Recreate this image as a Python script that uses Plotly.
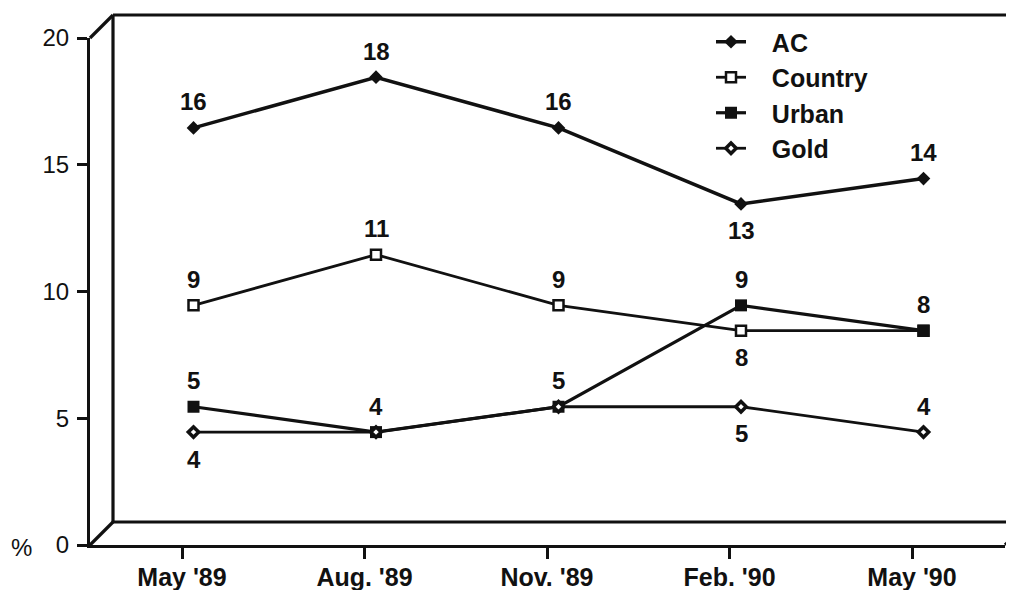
import plotly.graph_objects as go

# ---------------- data ----------------
periods = ["May '89", "Aug. '89", "Nov. '89", "Feb. '90", "May '90"]
ac = [16, 18, 16, 13, 14]
country = [9, 11, 9, 8, 8]
urban = [5, 4, 5, 9, 8]
gold = [4, 4, 5, 5, 4]
series_names = ["AC", "Country", "Urban", "Gold"]
y_ticks = [0, 5, 10, 15, 20]

# label placement per point ("" = label shared with another series)
ac_lab = ["above", "above", "above", "below", "above"]
country_lab = ["above", "above", "above", "below", ""]
urban_lab = ["above", "above", "above", "above", "above"]
gold_lab = ["below", "", "", "below", "above"]

# ---------------- geometry (pixels in the final picture) ----------------
W, H = 1014, 590
OFF = 8                          # page body margin offset
FRONT_L, FRONT_R = 90, 1005      # front axis x extent
FRONT_B, FRONT_T = 545, 38       # front axis y of 0 and 20
DEPTH = 23                       # 3D depth offset
X0_PX, X_STEP = 182, 182.5       # first category tick, spacing
Y_UNIT = (FRONT_B - FRONT_T) / 20.0


def px(x):
    return (x - OFF) / W


def py(y):
    return 1 - (y - OFF) / H


FONT = "Liberation Sans, Arial, Helvetica, sans-serif"
BLACK = "#111111"

fig = go.Figure()

# mid-depth data plane
half = DEPTH / 2
dx0 = X0_PX + half - OFF
dy0 = FRONT_B - half - OFF

styles = {
    "AC": dict(symbol="diamond", size=10.5, color=BLACK, line=dict(width=0)),
    "Country": dict(symbol="square", size=10, color="white", line=dict(width=2.5, color=BLACK)),
    "Urban": dict(symbol="square", size=12, color=BLACK, line=dict(width=0)),
    "Gold": dict(symbol="diamond", size=8, color="white", line=dict(width=3.5, color=BLACK)),
}
widths = {"AC": 3.5, "Country": 2.8, "Urban": 3.2, "Gold": 2.8}
values = {"AC": ac, "Country": country, "Urban": urban, "Gold": gold}
labs = {"AC": ac_lab, "Country": country_lab, "Urban": urban_lab, "Gold": gold_lab}

NB = "\u00a0" * 3
for name in series_names:
    fig.add_trace(go.Scatter(
        x=periods, y=values[name], mode="lines+markers",
        name=NB + name,
        line=dict(color=BLACK, width=widths[name]),
        marker=styles[name],
        xaxis="x", yaxis="y", hoverinfo="skip",
    ))

# invisible trace to anchor the front axes
fig.add_trace(go.Scatter(x=periods, y=ac, mode="markers", marker=dict(opacity=0),
                         xaxis="x2", yaxis="y2", showlegend=False, hoverinfo="skip"))

annotations = []
for name in series_names:
    for p, v, pos in zip(periods, values[name], labs[name]):
        if not pos:
            continue
        annotations.append(dict(
            x=p, y=v, xref="x", yref="y", text=str(v), showarrow=False,
            yshift=26 if pos == "above" else -27,
            font=dict(family=FONT, size=24, color=BLACK, weight="bold"),
        ))
annotations.append(dict(x=px(9), y=py(547), xref="paper", yref="paper", text="%",
                        showarrow=False, xanchor="left", yanchor="middle",
                        font=dict(family=FONT, size=24, color=BLACK)))

# back wall / 3D frame
lw = 3.2
segs = [
    ((FRONT_L + DEPTH, FRONT_T - DEPTH), (W + 20, FRONT_T - DEPTH)),
    ((FRONT_L + DEPTH, FRONT_T - DEPTH), (FRONT_L + DEPTH, FRONT_B - DEPTH)),
    ((FRONT_L + DEPTH, FRONT_B - DEPTH), (W + 20, FRONT_B - DEPTH)),
    ((FRONT_L, FRONT_T), (FRONT_L + DEPTH, FRONT_T - DEPTH)),
    ((FRONT_L, FRONT_B), (FRONT_L + DEPTH, FRONT_B - DEPTH)),
    ((FRONT_R, FRONT_B), (FRONT_R + DEPTH, FRONT_B - DEPTH)),
]
shapes = [dict(type="line", xref="paper", yref="paper",
               x0=px(a[0]), y0=py(a[1]), x1=px(b[0]), y1=py(b[1]),
               line=dict(color=BLACK, width=lw), layer="below")
          for a, b in segs]

fig.update_layout(
    width=W, height=H, autosize=False,
    margin=dict(l=0, r=0, t=0, b=0, pad=0, autoexpand=False),
    paper_bgcolor="white", plot_bgcolor="rgba(0,0,0,0)",
    font=dict(family=FONT, color=BLACK),
    xaxis=dict(domain=[0, 1], type="category", categoryarray=periods,
               range=[-dx0 / X_STEP, (W - dx0) / X_STEP],
               visible=False, fixedrange=True, automargin=False),
    yaxis=dict(domain=[0, 1], range=[(dy0 - H) / Y_UNIT, dy0 / Y_UNIT],
               visible=False, fixedrange=True, automargin=False),
    xaxis2=dict(domain=[px(FRONT_L), px(FRONT_R)], anchor="y2", type="category",
                categoryarray=periods,
                range=[(FRONT_L - X0_PX) / X_STEP, (FRONT_R - X0_PX) / X_STEP],
                showline=True, linecolor=BLACK, linewidth=lw,
                ticks="outside", ticklen=11, tickwidth=3, tickcolor=BLACK,
                ticklabelstandoff=-3, automargin=False,
                tickfont=dict(family=FONT, size=25, color=BLACK, weight="bold"),
                showgrid=False, zeroline=False, fixedrange=True),
    yaxis2=dict(domain=[py(FRONT_B), py(FRONT_T)], anchor="x2", range=[0, 20],
                tickvals=y_ticks, ticktext=[str(t) for t in y_ticks],
                showline=True, linecolor=BLACK, linewidth=lw,
                ticks="outside", ticklen=10, tickwidth=3, tickcolor=BLACK,
                ticklabelstandoff=3, automargin=False,
                tickfont=dict(family=FONT, size=24, color=BLACK),
                showgrid=False, zeroline=False, fixedrange=True),
    showlegend=True,
    legend=dict(x=px(711), y=py(19), xanchor="left", yanchor="top",
                bgcolor="rgba(0,0,0,0)", borderwidth=0,
                font=dict(family=FONT, size=25, color=BLACK, weight="bold"),
                itemwidth=30, tracegroupgap=0),
    shapes=shapes,
    annotations=annotations,
)

fig.write_html("out.html")
